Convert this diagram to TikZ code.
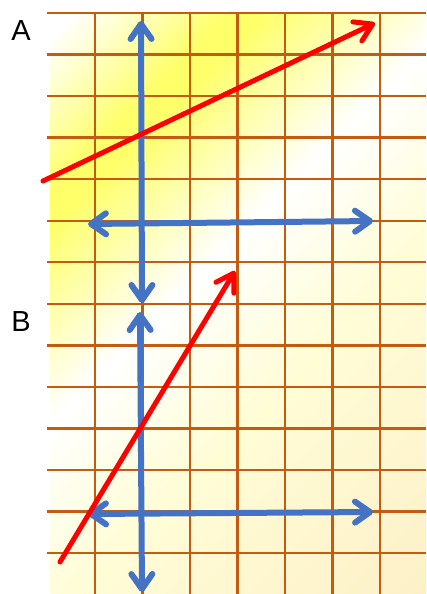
\documentclass[tikz,border=0pt]{standalone}
\usepackage{fontspec}
\setmainfont{Liberation Sans}
\usetikzlibrary{arrows.meta}
\definecolor{gridorange}{RGB}{197,90,17}
\definecolor{arrowblue}{RGB}{68,114,196}
\definecolor{bgyellow}{RGB}{255,255,105}
\definecolor{bgpale}{RGB}{255,253,215}
\definecolor{bgcream}{RGB}{253,240,200}
\pgfdeclarehorizontalshading{bgshade}{100bp}{color(0bp)=(white); color(16bp)=(white); color(25.5bp)=(bgyellow); color(27.5bp)=(bgyellow); color(39.5bp)=(white); color(51bp)=(bgpale); color(73bp)=(bgcream); color(100bp)=(bgcream)}
\tikzset{
  gridline/.style={gridorange, line width=2.4pt},
  bluetip/.tip={Straight Barb[round, length=15pt, width=21pt]},
  bluearrow/.style={arrowblue, line width=6pt, bluetip-bluetip},
  redarrow/.style={red, line width=5pt, line cap=round, -{Straight Barb[round, length=17pt, width=21pt]}},
  letter/.style={font=\fontsize{29}{30}\selectfont}
}
\begin{document}
\begin{tikzpicture}[x=1pt,y=-1pt]
  \useasboundingbox (0,0) rectangle (426,594);

  % Fond degrade jaune
  \begin{scope}
    \clip (50,13) rectangle (426,594);
    \shade[shading=bgshade, shading angle=-45] (50,13) rectangle (631,594);
  \end{scope}

  % Quadrillage
  \foreach \i in {0,...,13}
    \draw[gridline] (47,13+41.54*\i) -- (426,13+41.54*\i);
  \foreach \j in {0,...,6}
    \draw[gridline] (95+47.5*\j,13) -- (95+47.5*\j,594);

  % Lettres
  \node[letter] (labA) at (21,31) {A};
  \node[letter] (labB) at (21,322) {B};

  % Reperes A
  \coordinate (vAtop) at (141,21);
  \coordinate (vAbot) at (142,303);
  \coordinate (hAleft) at (88,224);
  \coordinate (hAright) at (373,221);
  \draw[bluearrow] (vAbot) -- (vAtop);
  \draw[bluearrow] (hAleft) -- (hAright);

  % Reperes B
  \coordinate (vBtop) at (140,312);
  \coordinate (vBbot) at (142,592);
  \coordinate (hBleft) at (88,514);
  \coordinate (hBright) at (373,512);
  \draw[bluearrow] (vBbot) -- (vBtop);
  \draw[bluearrow] (hBleft) -- (hBright);

  % Droites rouges
  \coordinate (rAstart) at (43,181);
  \coordinate (rAend) at (375,23);
  \coordinate (rBstart) at (60,562);
  \coordinate (rBend) at (235,271);
  \draw[redarrow] (rAstart) -- (rAend);
  \draw[redarrow] (rBstart) -- (rBend);
\end{tikzpicture}
\end{document}
